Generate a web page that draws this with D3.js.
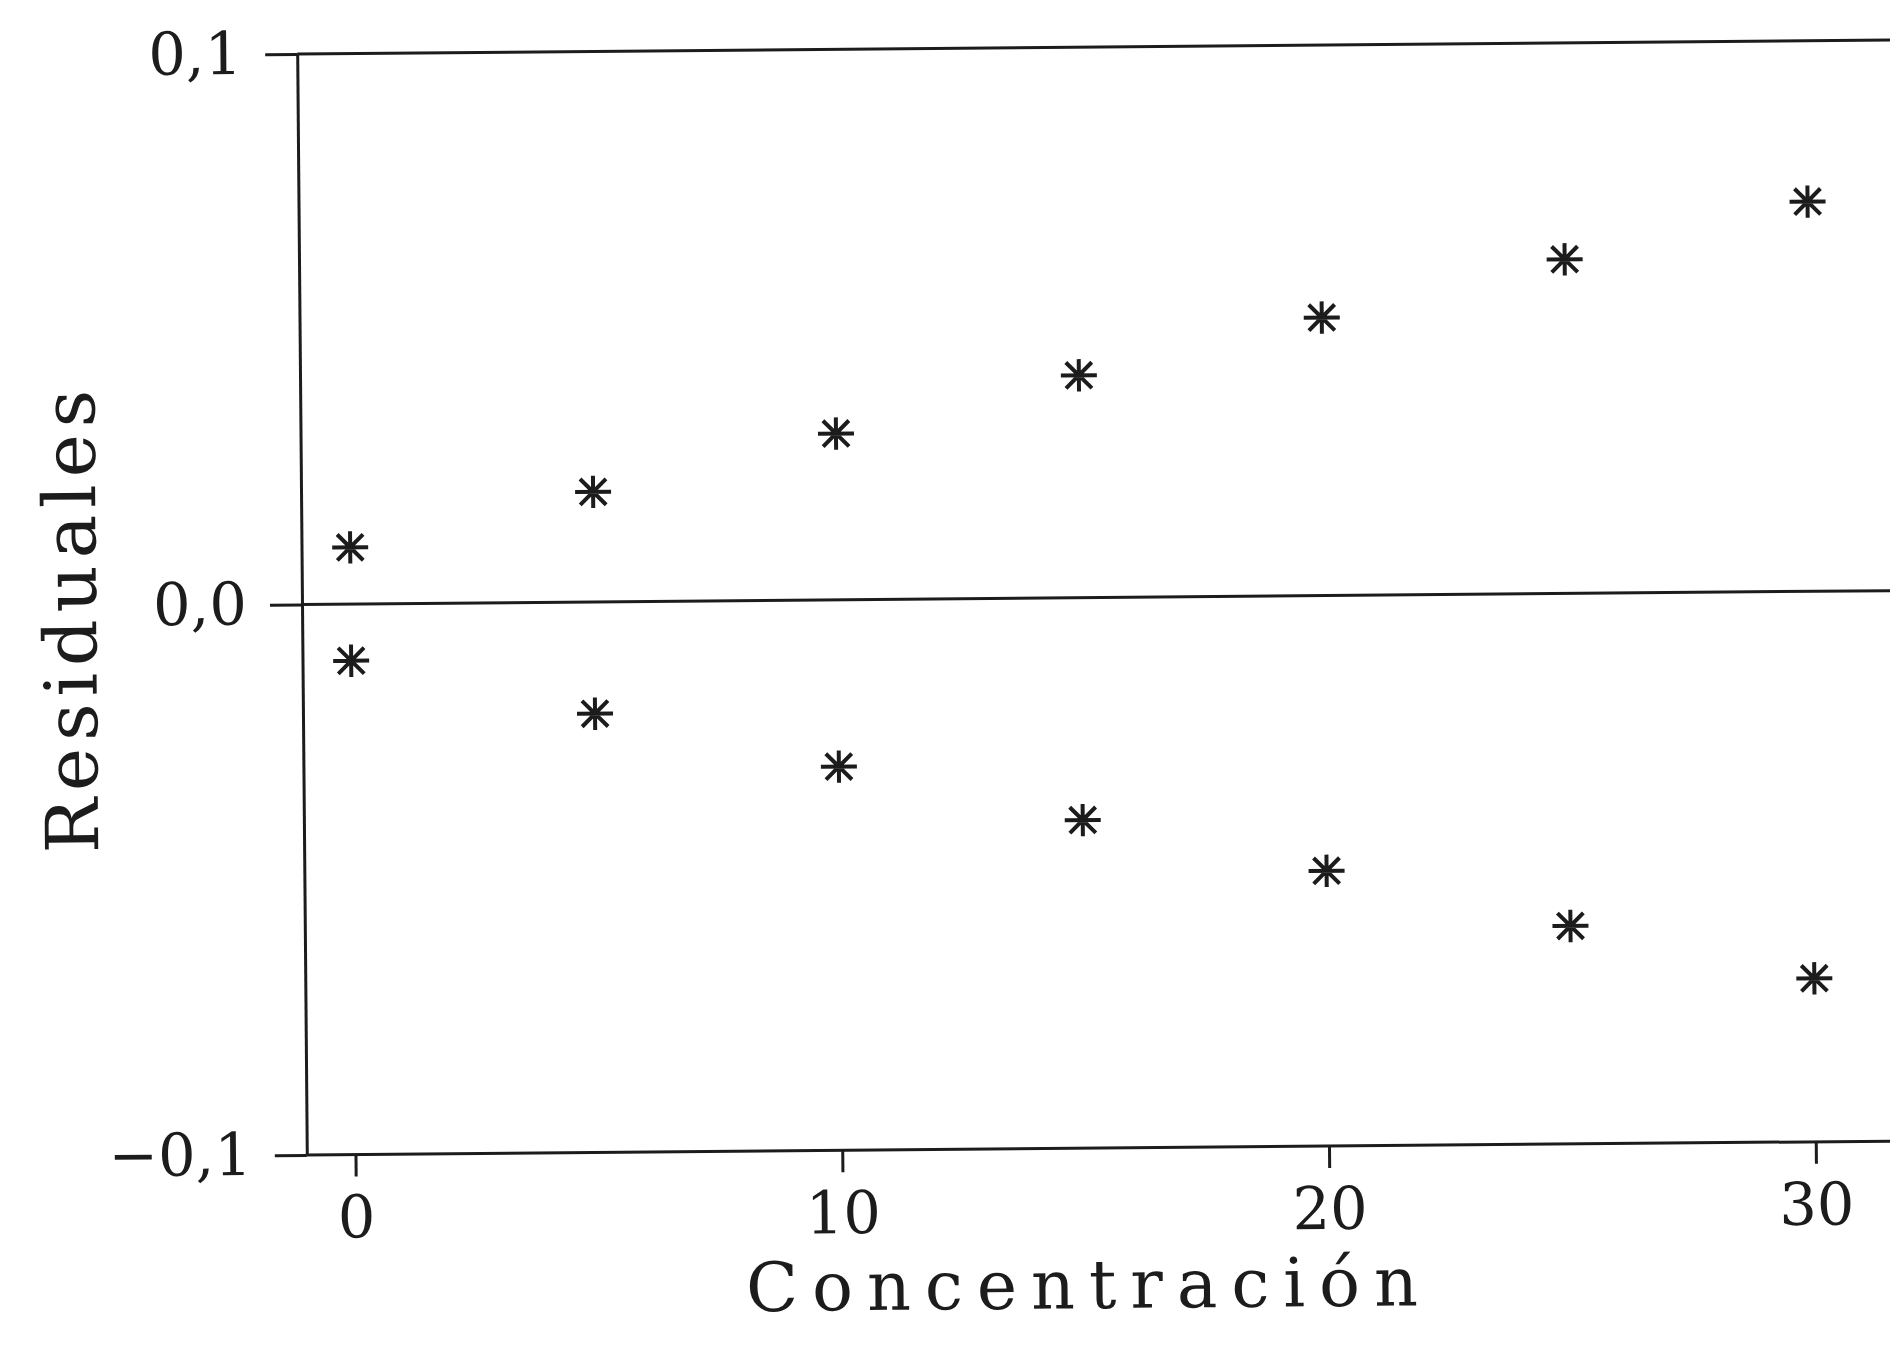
<!DOCTYPE html>
<html>
<head>
<meta charset="utf-8">
<script src="https://cdn.jsdelivr.net/npm/d3@7"></script>
<style>
  body { margin: 0; background: #fff; }
  svg { display: block; }
  text { font-family: "DejaVu Serif", serif; fill: #1c1c1c; }
</style>
</head>
<body>
<div id="chart"></div>
<script>
// valores
let concentracion = [0, 5, 10, 15, 20, 25, 30];
let residualesPos = [0.0103, 0.0200, 0.0302, 0.0404, 0.0505, 0.0607, 0.0708];
let residualesNeg = [-0.0103, -0.0203, -0.0303, -0.0404, -0.0500, -0.0604, -0.0703];
let xTicks = [0, 10, 20, 30];
let yTicks = [-0.1, 0, 0.1];
let yTickLabels = ["\u22120,1", "0,0", "0,1"];
let xLabel = "Concentración";
let yLabel = "Residuales";

const W = 1890, H = 1345;
const INK = "#1c1c1c";

let svg = d3.select("#chart").append("svg")
    .attr("width", W)
    .attr("height", H);

// the scan is slightly tilted
let g = svg.append("g").attr("transform", "rotate(-0.5, 302, 605)");

let x = d3.scaleLinear().domain([-1, 30]).range([302, 1811]);
let y = d3.scaleLinear().domain([-0.1, 0.1]).range([1155, 54]);

// frame lines: top, zero, bottom run off to the right edge
[0.1, 0, -0.1].forEach(v => {
    g.append("line")
        .attr("x1", x(-1)).attr("x2", x(33))
        .attr("y1", y(v)).attr("y2", y(v))
        .attr("stroke", INK).attr("stroke-width", 3);
});

let yAxis = g.append("g")
    .attr("transform", `translate(${x(-1)},0)`)
    .call(d3.axisLeft(y)
        .tickValues(yTicks)
        .tickSize(32)
        .tickSizeOuter(0)
        .tickPadding(23)
        .tickFormat((d, i) => yTickLabels[i]));

let xAxis = g.append("g")
    .attr("transform", `translate(0,${y(-0.1)})`)
    .call(d3.axisBottom(x)
        .tickValues(xTicks)
        .tickSize(22)
        .tickSizeOuter(0)
        .tickPadding(19)
        .tickFormat(d => d));

xAxis.select(".domain").remove();

[xAxis, yAxis].forEach(ax => {
    ax.attr("font-family", null).attr("font-size", null);
    ax.selectAll(".domain, .tick line").attr("stroke", INK).attr("stroke-width", 3);
    ax.selectAll(".tick text").attr("fill", INK).style("font-size", "59px");
});

// 8-armed asterisk marker
const star = {
    draw(ctx, size) {
        let r = Math.sqrt(size) / 2;
        let d = r * 0.72;
        ctx.moveTo(-r, 0); ctx.lineTo(r, 0);
        ctx.moveTo(0, -r * 0.9); ctx.lineTo(0, r * 0.9);
        ctx.moveTo(-d, -d); ctx.lineTo(d, d);
        ctx.moveTo(-d, d); ctx.lineTo(d, -d);
    }
};

let points = [];
concentracion.forEach((c, i) => {
    points.push([c, residualesPos[i]]);
    points.push([c, residualesNeg[i]]);
});

g.selectAll(".pt")
    .data(points)
    .join("path")
    .attr("class", "pt")
    .attr("transform", d => `translate(${x(d[0])},${y(d[1])})`)
    .attr("d", d3.symbol().type(star).size(36 * 36))
    .attr("fill", "none")
    .attr("stroke", INK)
    .attr("stroke-width", 4);

g.append("text")
    .attr("x", 1083)
    .attr("y", 1315)
    .attr("text-anchor", "middle")
    .style("font-size", "68px")
    .style("letter-spacing", "14px")
    .text(xLabel);

g.append("text")
    .attr("transform", "translate(96,616) rotate(-90)")
    .attr("text-anchor", "middle")
    .style("font-size", "73px")
    .style("letter-spacing", "7px")
    .text(yLabel);
</script>
</body>
</html>
